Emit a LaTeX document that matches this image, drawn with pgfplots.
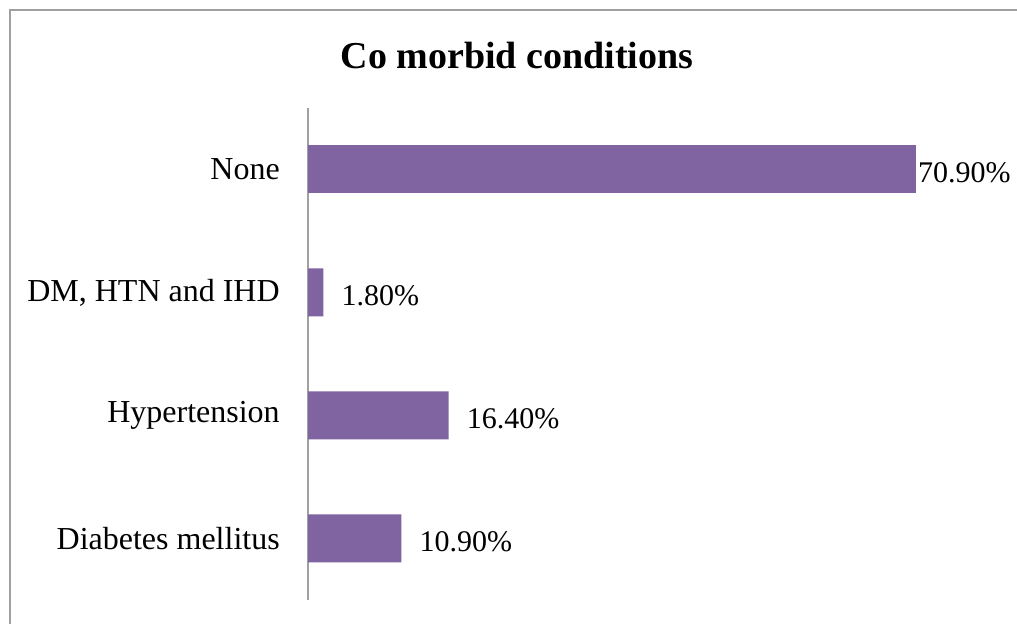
\documentclass[border=0pt]{standalone}
\usepackage{pgfplots}
\pgfplotsset{compat=1.18}
\usepackage{fontspec}
\setmainfont{Liberation Serif}
\definecolor{barpurple}{HTML}{8064A2}
\definecolor{axgray}{HTML}{A0A0A0}
\begin{document}
\begin{tikzpicture}[x=1pt,y=1pt]
\useasboundingbox (0,0) rectangle (762.75,468);
\fill[white] (0,0) rectangle (762.75,468);
\draw[axgray,line width=1.5pt] (7.5,0) -- (7.5,460.5) -- (762.75,460.5);
\node[anchor=base,font=\fontsize{28.5}{32}\selectfont\bfseries] at (387.75,416.5) {Co morbid conditions};
\begin{axis}[
  at={(231pt,18pt)}, anchor=south west,
  scale only axis, width=514.5pt, height=369pt,
  xmin=0, xmax=80, ymin=-0.5, ymax=3.5,
  xbar, bar width=36pt, bar shift=0pt,
  axis x line=none,
  axis y line*=left,
  y axis line style={axgray,line width=1.2pt,-},
  ytick={0,1,2,3},
  yticklabels={Diabetes mellitus,Hypertension,{DM, HTN and IHD},None},
  major tick length=0pt,
  ytick style={draw=none},
  yticklabel style={font=\fontsize{24}{28}\selectfont, anchor=east, inner sep=0pt, xshift=-21pt},
  nodes near coords={\pgfmathprintnumber[fixed,fixed zerofill,precision=2,assume math mode=true]{\pgfplotspointmeta}\%},
  point meta=explicit,
  nodes near coords style={font=\fontsize{22.5}{26}\selectfont, anchor=west, inner sep=0pt, yshift=-2.5pt},
  clip=false,
]
\addplot[fill=barpurple, draw=none, nodes near coords style={xshift=13.5pt}] coordinates {(10.9,0) [10.9] (16.4,1) [16.4] (1.8,2) [1.8]};
\addplot[fill=barpurple, draw=none, nodes near coords style={xshift=1.5pt}] coordinates {(70.9,3) [70.9]};
\end{axis}
\end{tikzpicture}
\end{document}
